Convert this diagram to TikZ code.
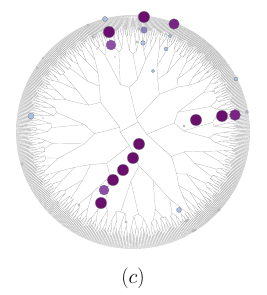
\documentclass[tikz,border=0pt]{standalone}
\usepackage{tikz}
\usetikzlibrary{calc}
\usepackage{xcolor}
\definecolor{treegray}{HTML}{A2A2A2}
\definecolor{dkpurple}{HTML}{6B0F6E}
\definecolor{midpurple}{HTML}{7A2585}
\definecolor{softpurple}{HTML}{8E4EA8}
\definecolor{lavender}{HTML}{8A82C0}
\definecolor{paleblue}{HTML}{A9C1E3}

\tikzset{
  branch/.style={draw=treegray, line width=0.2pt},
  hit/.style={draw=black!55, line width=0.25pt},
  speck/.style={fill=black!55},
}

\begin{document}
\begin{tikzpicture}[x=1pt, y=1pt]

% === Wymiary ===
\useasboundingbox (0,0) rectangle (266,295);

% === Środek drzewa ===
\coordinate (ctr) at (133,163);
\coordinate (hubA) at (120,163);
\coordinate (hubB) at (138,173);
\draw[branch] (hubA) -- (hubB);

% === Poddrzewa (4 gałęzie, po 256 liści) ===
\begin{scope}[shift={(ctr)}]
\foreach \s/\a/\b/\hub in {1/35/115/hubB, 2/-55/35/hubB, 3/115/205/hubA, 4/205/305/hubA} {
  \pgfmathsetmacro\mid{(\a+\b)/2}
  \coordinate (t\s-0-0) at (\mid:14);
  \draw[branch] (\hub) -- (t\s-0-0);
  \foreach \k in {1,...,8} {
    \pgfmathtruncatemacro\nn{2^\k-1}
    \pgfmathtruncatemacro\kp{\k-1}
    \foreach \i in {0,...,\nn} {
      \pgfmathtruncatemacro\ip{floor(\i/2)}
      \pgfmathsetmacro\ang{\a+(\i+0.5)/2^\k*(\b-\a)}
      \pgfmathsetmacro\rb{{14,36,58,75,86,93,99,104,117}[\k]}
      \pgfmathsetmacro\jit{{0,10,9,7,5,3,2,2,0}[\k]}
      \pgfmathtruncatemacro\ph{mod(\i*37+\k*59+\s*23,360)}
      \pgfmathsetmacro\rad{\rb+\jit*sin(\ph)}
      \coordinate (t\s-\k-\i) at (\ang:\rad);
      \draw[branch] (t\s-\kp-\ip) -- (t\s-\k-\i);
    }
  }
}
\end{scope}

% === Drobne kropki ===
\foreach \x/\y in {43/237,61/237,37/227,97/246,115/238,210/232,213/204,225/210,
                   43/177,166/261,208/223,33/133,210/94} {
  \fill[speck] (\x,\y) circle (0.6);
}

% === Małe kółka (białe) ===
\foreach \x/\y in {88/270,139/266,137/253,93/258,184/169,22/131,79/90,126/73,
                   186/74,188/75,193/64,195/65,219/85} {
  \draw[hit, fill=white!85!paleblue] (\x,\y) circle (1.2);
}

% === Jasnoniebieskie kółka ===
\foreach \x/\y/\r in {140/279/2,105/276/2.5,143/252/2.3,170/259/1.7,166/246/2,
                      153/224/1.7,236/216/2,31/179/3,179/85/2.5,247/183/1.5} {
  \draw[hit, fill=paleblue] (\x,\y) circle (\r);
}

% === Fioletowe kółka ===
\draw[hit, fill=lavender] (144,265) circle (3.3);
\draw[hit, fill=softpurple] (111,250) circle (5);
\draw[hit, fill=softpurple] (104,105) circle (5);
\draw[hit, fill=midpurple] (174,271) circle (5.3);
\draw[hit, fill=midpurple] (235,180) circle (5.5);
\foreach \x/\y in {144/278,109/263,196/175,222/179,139/151,133/137,123/125,113/115,101/92} {
  \draw[hit, fill=dkpurple] (\x,\y) circle (5.7);
}

% === Podpis ===
\node (caption) at (133,17) {\huge $(c)$};

\end{tikzpicture}
\end{document}
